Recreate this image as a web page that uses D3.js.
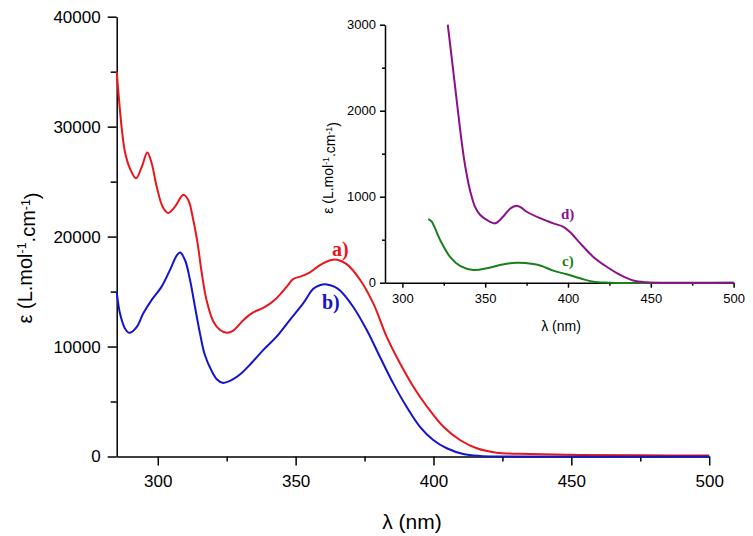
<!DOCTYPE html>
<html lang="en">
<head>
<meta charset="UTF-8">
<title>UV-vis spectra</title>
<script src="https://cdnjs.cloudflare.com/ajax/libs/d3/7.8.5/d3.min.js"></script>
<style>
  body { margin: 0; background: #fff; }
  svg { display: block; }
  .tick text { font-family: "Liberation Sans", Arial, sans-serif; fill: #000; }
  .label { font-family: "Liberation Serif", "Times New Roman", serif; font-weight: bold; }
  .title { font-family: "Liberation Sans", Arial, sans-serif; fill: #000; }
</style>
</head>
<body>
<svg width="753" height="536"></svg>
<script>
// spectra: [wavelength nm, epsilon L/mol/cm]
const curveA = [
  [285.1, 35000], [286.0, 32300], [286.9, 29900], [288.1, 27700], [289.9, 26200],
  [292.1, 25300], [294.2, 26350], [296.2, 27650], [297.8, 26650], [299.6, 24550],
  [301.8, 22700], [303.8, 22150], [306.2, 22700], [309.3, 23800], [311.1, 23300],
  [312.8, 21600], [314.5, 19300], [316.0, 16600], [317.7, 14200], [320.1, 12300],
  [322.6, 11500], [325.0, 11250], [327.4, 11450], [331.0, 12400], [334.6, 13100],
  [338.9, 13600], [343.1, 14400], [346.8, 15450], [349.2, 16150], [352.2, 16400],
  [355.2, 16750], [358.8, 17400], [362.5, 17850], [365.0, 17900], [368.5, 17500],
  [373.3, 16100], [378.2, 13900], [383.0, 10900], [387.9, 8450], [392.7, 6350],
  [397.6, 4550], [403.6, 2700], [409.6, 1500], [415.7, 750], [422.9, 350],
  [435.0, 230], [453.0, 140], [475.0, 110], [500.0, 80]
];
const curveB = [
  [285.1, 15000], [286.3, 13000], [288.1, 11650], [289.7, 11250], [292.4, 11800],
  [294.7, 13000], [297.8, 14250], [301.4, 15450], [304.4, 16950], [306.9, 18300],
  [308.1, 18550], [309.9, 17850], [311.7, 16050], [313.5, 13600], [315.3, 11200],
  [317.0, 9300], [319.5, 7800], [321.5, 7000], [323.5, 6700], [326.0, 6850],
  [330.0, 7500], [334.0, 8500], [338.3, 9700], [343.1, 10900], [348.0, 12450],
  [352.8, 13950], [356.4, 15250], [359.0, 15600], [361.3, 15650], [364.0, 15450],
  [366.1, 15100], [370.9, 13600], [375.8, 11500], [380.6, 9050], [385.4, 6650],
  [390.3, 4500], [395.1, 2700], [399.9, 1500], [404.8, 750], [410.8, 230],
  [416.9, 50], [423.0, 0], [500.0, 0]
];
const curveC = [
  [315.6, 740], [317.7, 710], [322.7, 500], [328.8, 300], [334.8, 195],
  [342.8, 148], [350.9, 167], [358.9, 206], [369.0, 233], [379.1, 218],
  [384.1, 195], [391.1, 140], [399.2, 98], [407.3, 51], [415.3, 10],
  [425.0, 0], [500.0, 0]
];
const curveD = [
  [327.4, 3000], [330.0, 2580], [332.5, 2170], [335.0, 1760], [337.0, 1470],
  [339.0, 1240], [341.0, 1060], [343.8, 885], [346.9, 790], [350.9, 730],
  [355.9, 690], [360.9, 770], [365.0, 860], [369.0, 895], [372.0, 870],
  [375.1, 825], [383.1, 750], [391.1, 690], [397.2, 650], [401.2, 590],
  [407.3, 460], [415.3, 300], [423.4, 185], [431.5, 90], [439.4, 25],
  [447.5, 5], [460.0, 0], [500.0, 0]
];

const mainXTicks = [300, 350, 400, 450, 500];
const mainXMinor = [325, 375, 425, 475];
const mainYTicks = [0, 10000, 20000, 30000, 40000];
const mainYMinor = [5000, 15000, 25000, 35000];
const insetXTicks = [300, 350, 400, 450, 500];
const insetXMinor = [325, 375, 425, 475];
const insetYTicks = [0, 1000, 2000, 3000];
const insetYMinor = [500, 1500, 2500];

const svg = d3.select("svg");

function drawPanel(o) {
    const x = d3.scaleLinear().domain(o.xDomain).range(o.xRange);
    const y = d3.scaleLinear().domain(o.yDomain).range(o.yRange);
    const g = svg.append("g");

    // minor ticks first, then major axes on top
    g.append("g")
        .attr("transform", `translate(0,${o.yRange[0]})`)
        .call(d3.axisBottom(x).tickValues(o.xMinor).tickSize(o.minorX).tickFormat(""))
        .call(a => a.select(".domain").remove());
    g.append("g")
        .attr("transform", `translate(${o.xRange[0]},0)`)
        .call(d3.axisLeft(y).tickValues(o.yMinor).tickSize(o.minorY).tickFormat(""))
        .call(a => a.select(".domain").remove());

    const xa = g.append("g")
        .attr("transform", `translate(0,${o.yRange[0]})`)
        .call(d3.axisBottom(x).tickValues(o.xTicks).tickFormat(d3.format("d"))
            .tickSize(o.major).tickSizeOuter(0).tickPadding(o.padX));
    const ya = g.append("g")
        .attr("transform", `translate(${o.xRange[0]},0)`)
        .call(d3.axisLeft(y).tickValues(o.yTicks).tickFormat(d3.format("d"))
            .tickSize(o.major).tickSizeOuter(0).tickPadding(o.padY));
    [xa, ya].forEach(a => {
        a.selectAll("text").style("font-size", o.font + "px");
        a.selectAll("line, path").attr("stroke", "#000").attr("stroke-width", 1.5);
    });
    g.selectAll(".tick line").attr("stroke", "#000").attr("stroke-width", 1.5);

    const line = d3.line()
        .x(d => x(d[0]))
        .y(d => y(d[1]))
        .curve(d3.curveCatmullRom.alpha(0.5));
    o.series.forEach(s => {
        g.append("path")
            .datum(s.data)
            .attr("fill", "none")
            .attr("stroke", s.color)
            .attr("stroke-width", 2)
            .attr("stroke-linejoin", "round")
            .attr("d", line);
    });
    return g;
}

function epsTitle(g, cx, cy, size) {
    const t = g.append("text")
        .attr("class", "title")
        .attr("transform", `translate(${cx},${cy}) rotate(-90)`)
        .attr("text-anchor", "middle")
        .style("font-size", size + "px");
    t.append("tspan").text("\u03b5 (L.mol");
    t.append("tspan").attr("dy", "-0.45em").style("font-size", "0.62em").text("-1");
    t.append("tspan").attr("dy", "0.45em").text(".cm");
    t.append("tspan").attr("dy", "-0.45em").style("font-size", "0.62em").text("-1");
    t.append("tspan").attr("dy", "0.45em").text(")");
}

const red = "#e8161c", blue = "#1414cc", purple = "#8c0f8c", green = "#1b7f1b";

const main = drawPanel({
    xDomain: [285.1, 500], xRange: [116.7, 709.2],
    yDomain: [0, 40000], yRange: [456.5, 16.7],
    xTicks: mainXTicks, xMinor: mainXMinor, yTicks: mainYTicks, yMinor: mainYMinor,
    major: 9, minorX: 5, minorY: 6, padX: 9, padY: 7, font: 17,
    series: [{ data: curveA, color: red }, { data: curveB, color: blue }]
});
epsTitle(main, 32, 258, 20);
main.append("text").attr("class", "title")
    .attr("x", 412).attr("y", 529).attr("text-anchor", "middle")
    .style("font-size", "21px").text("\u03bb (nm)");
main.append("text").attr("class", "label").attr("x", 332).attr("y", 256)
    .attr("fill", red).style("font-size", "20px").text("a)");
main.append("text").attr("class", "label").attr("x", 322).attr("y", 309)
    .attr("fill", blue).style("font-size", "20px").text("b)");

const inset = drawPanel({
    xDomain: [289.5, 500], xRange: [385, 733.6],
    yDomain: [0, 3000], yRange: [282.7, 24.7],
    xTicks: insetXTicks, xMinor: insetXMinor, yTicks: insetYTicks, yMinor: insetYMinor,
    major: 5, minorX: 3, minorY: 3, padX: 6, padY: 4, font: 13,
    series: [{ data: curveC, color: green }, { data: curveD, color: purple }]
});
epsTitle(inset, 333, 168, 14);
inset.append("text").attr("class", "title")
    .attr("x", 561).attr("y", 331).attr("text-anchor", "middle")
    .style("font-size", "14px").text("\u03bb (nm)");
inset.append("text").attr("class", "label").attr("x", 561).attr("y", 219)
    .attr("fill", purple).style("font-size", "15px").text("d)");
inset.append("text").attr("class", "label").attr("x", 562).attr("y", 266)
    .attr("fill", green).style("font-size", "15px").text("c)");
</script>
</body>
</html>
